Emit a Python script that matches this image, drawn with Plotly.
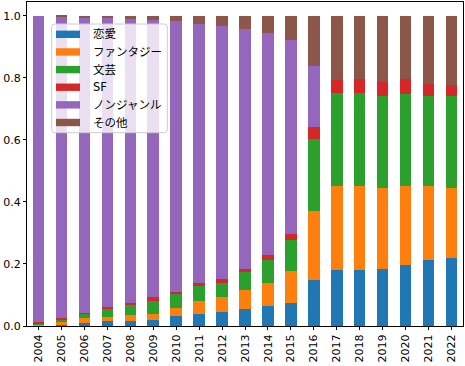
import plotly.graph_objects as go

years = [str(y) for y in range(2004, 2023)]

romance = [0.002, 0.006, 0.010, 0.015, 0.015, 0.019, 0.032, 0.040, 0.046, 0.055, 0.064, 0.074,
           0.149, 0.180, 0.180, 0.183, 0.196, 0.214, 0.218]
fantasy = [0.003, 0.006, 0.016, 0.014, 0.020, 0.021, 0.026, 0.040, 0.047, 0.060, 0.076, 0.103,
           0.222, 0.272, 0.272, 0.262, 0.256, 0.238, 0.227]
literary = [0.002, 0.010, 0.014, 0.029, 0.034, 0.040, 0.044, 0.049, 0.047, 0.060, 0.073, 0.100,
            0.231, 0.301, 0.301, 0.298, 0.296, 0.291, 0.296]
sf = [0.006, 0.003, 0.002, 0.004, 0.006, 0.013, 0.007, 0.009, 0.011, 0.010, 0.016, 0.020,
      0.040, 0.042, 0.045, 0.044, 0.048, 0.038, 0.037]
nongenre = [0.987, 0.972, 0.953, 0.932, 0.915, 0.893, 0.874, 0.835, 0.817, 0.772, 0.715, 0.625,
            0.197, 0.0, 0.0, 0.0, 0.0, 0.0, 0.0]
other = [0.0, 0.003, 0.005, 0.006, 0.010, 0.014, 0.017, 0.027, 0.032, 0.043, 0.056, 0.078,
         0.161, 0.205, 0.202, 0.213, 0.204, 0.219, 0.222]

series = [
    ("恋愛", romance, "#1f77b4"),
    ("ファンタジー", fantasy, "#ff7f0e"),
    ("文芸", literary, "#2ca02c"),
    ("SF", sf, "#d62728"),
    ("ノンジャンル", nongenre, "#9467bd"),
    ("その他", other, "#8c564b"),
]

FONT = "DejaVu Sans, Noto Sans CJK JP, sans-serif"
W, H = 465, 366
ML, MR, MT, MB = 27, 2, 2, 40
PW, PH = W - ML - MR, H - MT - MB


def px(x):
    return (x - ML) / PW


def py(y):
    return 1 - (y - MT) / PH


fig = go.Figure()
for name, vals, color in series:
    fig.add_trace(go.Bar(
        x=years, y=vals, name=name, width=0.5, showlegend=False,
        marker=dict(color=color, line=dict(width=0)),
    ))

# legend drawn in the style of the original (wide flat patches, rounded frame)
shapes = []
annotations = []
bx0, bx1, by0, by1, r = 51.7, 167.3, 24.0, 132.7, 3.0
rx, ry = r / PW, r / PH
X0, X1, Y0, Y1 = px(bx0), px(bx1), py(by0), py(by1)
path = (f"M{X0 + rx},{Y0} L{X1 - rx},{Y0} Q{X1},{Y0} {X1},{Y0 - ry} "
        f"L{X1},{Y1 + ry} Q{X1},{Y1} {X1 - rx},{Y1} L{X0 + rx},{Y1} "
        f"Q{X0},{Y1} {X0},{Y1 + ry} L{X0},{Y0 - ry} Q{X0},{Y0} {X0 + rx},{Y0} Z")
shapes.append(dict(type="path", xref="paper", yref="paper", path=path,
                   fillcolor="rgba(255,255,255,0.8)", line=dict(color="#cccccc", width=1)))
cy0, step = 34.3, 17.64
for i, (name, _, color) in enumerate(series):
    cy = cy0 + i * step
    shapes.append(dict(type="rect", xref="paper", yref="paper",
                       x0=px(56), x1=px(80), y0=py(cy - 3.7), y1=py(cy + 3.7),
                       fillcolor=color, line=dict(width=0)))
    annotations.append(dict(xref="paper", yref="paper", x=px(90.5), y=py(cy),
                            xanchor="left", yanchor="middle", text=name, showarrow=False,
                            font=dict(family=FONT, size=11.5, color="black")))

fig.update_layout(
    width=W, height=H,
    margin=dict(l=ML, r=MR, t=MT, b=MB, autoexpand=False),
    barmode="stack",
    plot_bgcolor="white", paper_bgcolor="white",
    font=dict(family=FONT, size=11, color="black"),
    showlegend=False,
    shapes=shapes,
    annotations=annotations,
    xaxis=dict(
        type="category", range=[-0.5, 18.5], automargin=False,
        showline=True, mirror=True, linecolor="black", linewidth=1,
        ticks="outside", ticklen=3, tickwidth=1, tickcolor="black",
        tickangle=-90, showgrid=False,
    ),
    yaxis=dict(
        range=[0, 1.045], tickvals=[0, 0.2, 0.4, 0.6, 0.8, 1.0], tickformat=".1f",
        automargin=False,
        showline=True, mirror=True, linecolor="black", linewidth=1,
        ticks="outside", ticklen=3, tickwidth=1, tickcolor="black",
        showgrid=False, zeroline=False,
    ),
)

fig.write_html(
    "out.html",
    config={"displayModeBar": False},
    post_script="document.body.style.margin='0';document.body.style.padding='0';",
)
